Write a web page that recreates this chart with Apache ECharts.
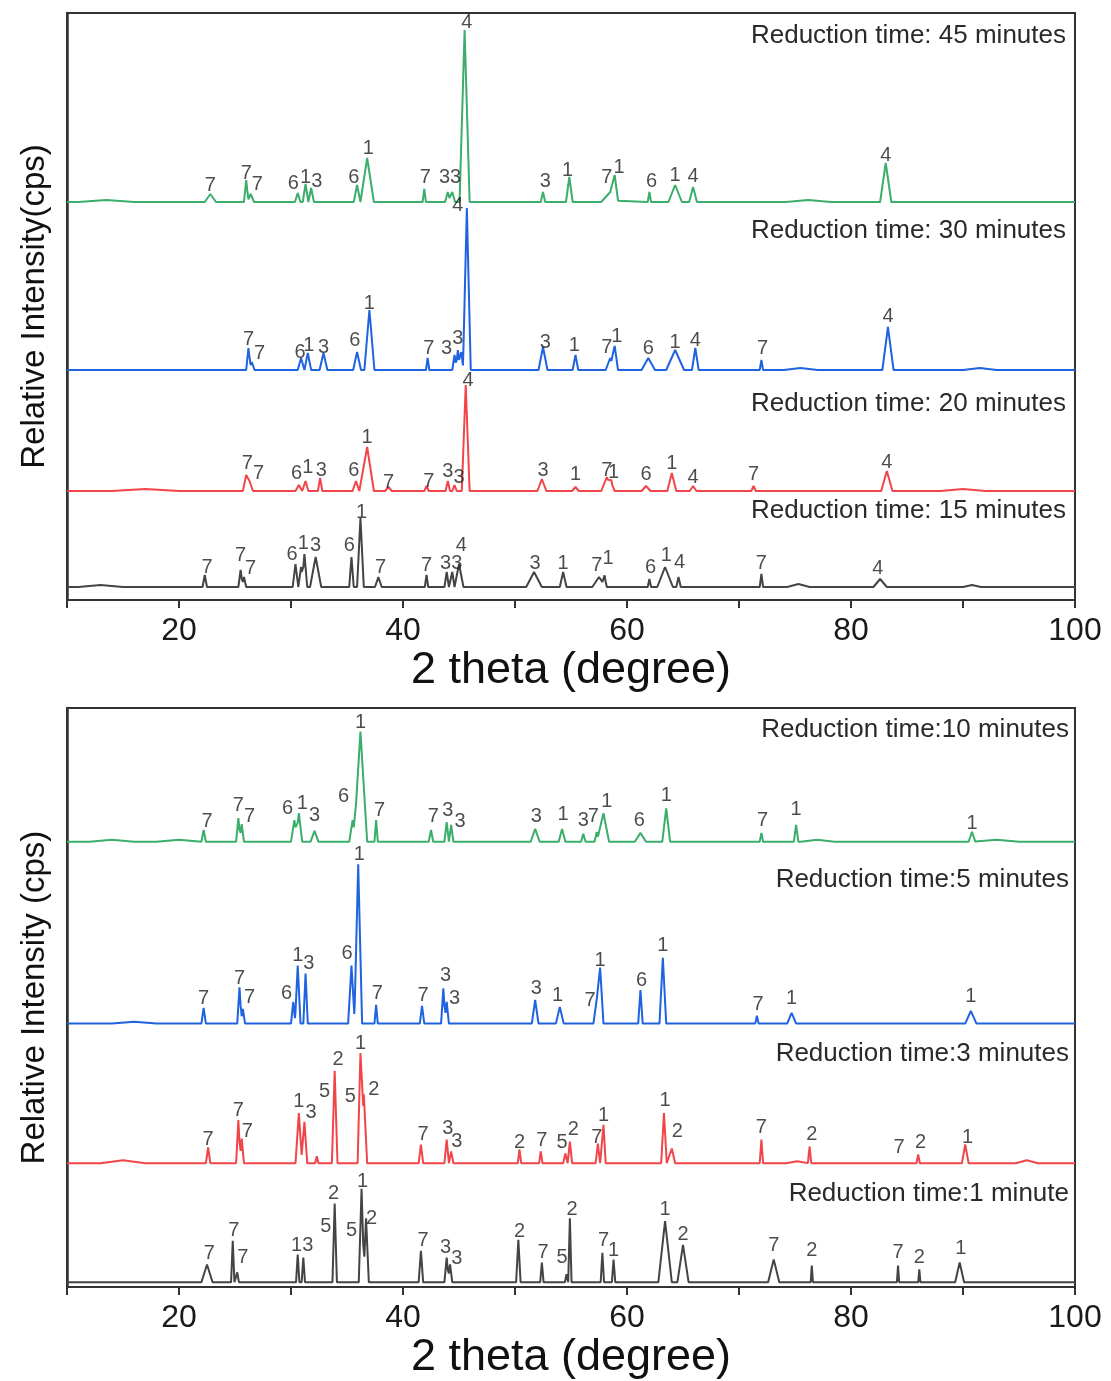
<!DOCTYPE html>
<html>
<head>
<meta charset="utf-8">
<script src="https://cdn.jsdelivr.net/npm/echarts@6/dist/echarts.min.js"></script>
<style>
html,body{margin:0;padding:0;background:#fff;}
#chart{width:1111px;height:1381px;}
</style>
</head>
<body>
<div id="chart"></div>
<script>
// ---- x axis ----
const xTickLabels = [20, 40, 60, 80, 100];

// ---- trace baselines (relative intensity offsets) ----
const topOffsets = [398, 230, 109, 13];      // 45, 30, 20, 15 minutes
const bottomOffsets = [453, 268, 126, 5];    // 10, 5, 3, 1 minutes

const topTitles = ['Reduction time: 45 minutes', 'Reduction time: 30 minutes', 'Reduction time: 20 minutes', 'Reduction time: 15 minutes'];
const bottomTitles = ['Reduction time:10 minutes', 'Reduction time:5 minutes', 'Reduction time:3 minutes', 'Reduction time:1 minute'];

// ---- peaks: [2theta, height, half base width] ----
const peaks45 = [[13.5,2,2.5],[22.8,8,0.5],[26.0,22,0.2],[26.4,8,0.3],[30.6,9,0.25],[31.3,18,0.25],[31.8,14,0.25],[35.9,17,0.3],[36.8,44,0.6],[41.9,13,0.15],[44.0,10,0.25],[44.4,10,0.25],[45.5,172,0.45],[52.5,10,0.2],[54.85,25,0.3],[58.5,10,0.8],[58.9,22,0.3],[62.0,10,0.15],[64.3,17,0.6],[65.9,15,0.35],[76.2,2,2],[83.1,39,0.5]];
const peaks30 = [[26.2,22,0.2],[26.5,8,0.25],[30.9,12,0.3],[31.5,17,0.3],[32.9,17,0.35],[35.9,18,0.35],[37.0,60,0.45],[42.2,12,0.15],[44.6,15,0.2],[44.9,20,0.2],[45.2,18,0.2],[45.7,162,0.35],[52.5,23,0.4],[55.4,15,0.25],[58.5,12,0.4],[58.9,24,0.3],[61.9,12,0.6],[64.3,20,0.8],[66.1,22,0.3],[72.0,10,0.15],[75.5,2,1.5],[83.3,43,0.5],[91.5,2,1.5]];
const peaks20 = [[17,2,3],[26.0,16,0.3],[26.3,10,0.3],[30.7,6,0.3],[31.3,10,0.25],[32.6,13,0.2],[35.8,10,0.3],[36.8,44,0.6],[38.7,4,0.3],[42.1,5,0.2],[44.0,10,0.2],[44.6,6,0.2],[45.6,106,0.35],[52.4,12,0.4],[55.4,4,0.3],[58.2,14,0.5],[58.6,8,0.3],[61.7,5,0.4],[64.0,18,0.4],[65.9,5,0.3],[71.3,5,0.2],[83.2,20,0.5],[90,2,2]];
const peaks15 = [[13,2,2],[22.3,12,0.2],[25.5,17,0.2],[25.8,10,0.2],[30.4,23,0.25],[30.9,20,0.2],[31.2,33,0.25],[32.2,30,0.5],[35.4,30,0.2],[36.2,69,0.3],[37.8,10,0.3],[42.1,12,0.15],[43.9,15,0.2],[44.4,15,0.2],[45.0,23,0.4],[51.7,15,0.7],[54.3,15,0.3],[57.5,10,0.6],[58.0,10,0.2],[62.0,8,0.15],[63.4,20,0.7],[64.6,10,0.2],[72.0,13,0.15],[75.3,3,1.0],[82.6,8,0.6],[90.8,2,0.8]];

const peaks10 = [[14,2,2],[20,2,2],[22.2,12,0.2],[25.3,24,0.2],[25.6,18,0.2],[30.3,22,0.3],[30.7,29,0.3],[32.1,11,0.35],[35.5,22,0.3],[36.2,112,0.6],[37.6,22,0.15],[42.5,12,0.2],[43.9,20,0.2],[44.3,17,0.2],[51.8,13,0.4],[54.2,13,0.3],[56.1,8,0.2],[57.3,10,0.2],[57.9,29,0.5],[61.2,9,0.5],[63.5,34,0.35],[72.0,9,0.15],[75.1,17,0.2],[77.0,2,1.5],[90.8,10,0.3],[93,2,2]];
const peaks5 = [[16,2,2],[22.2,16,0.2],[25.4,37,0.2],[25.7,15,0.2],[30.2,22,0.2],[30.6,59,0.25],[31.3,51,0.2],[35.4,59,0.3],[36.0,162,0.35],[37.6,19,0.15],[41.7,18,0.2],[43.6,36,0.2],[43.9,22,0.2],[51.8,24,0.3],[54.0,17,0.35],[57.3,25,0.3],[57.6,57,0.3],[61.2,34,0.2],[63.2,67,0.3],[71.6,8,0.15],[74.7,11,0.4],[90.7,13,0.5]];
const peaks3 = [[15,3,2],[22.6,16,0.2],[25.3,44,0.2],[25.6,25,0.2],[30.7,51,0.3],[31.2,42,0.25],[32.3,7,0.15],[33.9,94,0.25],[36.2,112,0.25],[36.5,70,0.3],[41.6,19,0.2],[43.9,24,0.2],[44.3,12,0.2],[50.4,14,0.15],[52.3,12,0.15],[54.5,10,0.2],[54.9,22,0.2],[57.4,20,0.2],[57.9,39,0.2],[63.3,51,0.25],[64.0,15,0.3],[72.0,24,0.15],[75.2,2,1.0],[76.3,17,0.15],[86.0,9,0.15],[90.2,19,0.3],[95.7,3,1.0]];
const peaks1 = [[22.5,18,0.5],[24.8,42,0.15],[25.2,10,0.15],[30.6,28,0.15],[31.1,25,0.15],[33.9,80,0.2],[36.3,95,0.25],[36.7,65,0.25],[41.6,32,0.2],[43.9,25,0.2],[44.2,18,0.2],[50.3,43,0.2],[52.4,20,0.15],[54.6,8,0.15],[54.9,65,0.15],[57.8,30,0.15],[58.8,23,0.15],[63.4,62,0.6],[65.0,38,0.5],[73.1,23,0.5],[76.5,17,0.1],[84.2,17,0.1],[86.1,13,0.1],[89.7,20,0.4]];

// ---- phase labels: [2theta, height above baseline, text] ----
const labels45 = [[22.8,17,'7'],[26.0,29,'7'],[27.0,18,'7'],[30.2,19,'6'],[31.3,25,'1'],[32.3,21,'3'],[35.6,25,'6'],[36.9,54,'1'],[42.0,25,'7'],[44.2,25,'33'],[45.7,180,'4'],[52.7,21,'3'],[54.7,32,'1'],[58.2,25,'7'],[59.3,35,'1'],[62.2,21,'6'],[64.3,27,'1'],[65.9,26,'4'],[83.1,47,'4']];
const labels30 = [[26.2,31,'7'],[27.2,17,'7'],[30.8,18,'6'],[31.6,25,'1'],[32.9,23,'3'],[35.7,30,'6'],[37.0,67,'1'],[42.3,22,'7'],[43.9,22,'3'],[44.9,32,'3'],[44.9,165,'4'],[52.7,28,'3'],[55.3,25,'1'],[58.2,23,'7'],[59.1,34,'1'],[61.9,22,'6'],[64.3,28,'1'],[66.1,30,'4'],[72.1,22,'7'],[83.3,54,'4']];
const labels20 = [[26.1,28,'7'],[27.1,18,'7'],[30.5,18,'6'],[31.5,24,'1'],[32.7,21,'3'],[35.6,21,'6'],[36.8,54,'1'],[38.7,9,'7'],[42.3,10,'7'],[44.0,20,'3'],[45.0,14,'3'],[45.8,111,'4'],[52.5,21,'3'],[55.4,17,'1'],[58.2,21,'7'],[58.8,19,'1'],[61.7,17,'6'],[64.0,28,'1'],[65.9,14,'4'],[71.3,17,'7'],[83.2,29,'4']];
const labels15 = [[22.5,20,'7'],[25.5,32,'7'],[26.4,19,'7'],[30.1,33,'6'],[31.1,44,'1'],[32.2,42,'3'],[35.2,42,'6'],[36.3,75,'1'],[38.0,20,'7'],[42.1,22,'7'],[44.3,24,'33'],[45.2,42,'4'],[51.8,24,'3'],[54.3,24,'1'],[57.3,22,'7'],[58.3,29,'1'],[62.1,20,'6'],[63.5,32,'1'],[64.7,25,'4'],[72.0,24,'7'],[82.4,19,'4']];

const labels10 = [[22.5,21,'7'],[25.3,37,'7'],[26.3,26,'7'],[29.7,34,'6'],[31.0,39,'1'],[32.1,27,'3'],[34.7,46,'6'],[36.2,121,'1'],[37.9,32,'7'],[42.7,26,'7'],[44.0,32,'3'],[45.1,21,'3'],[51.9,26,'3'],[54.3,28,'1'],[56.1,22,'3'],[57.0,26,'7'],[58.2,41,'1'],[61.1,22,'6'],[63.5,47,'1'],[72.1,22,'7'],[75.1,33,'1'],[90.8,19,'1']];
const labels5 = [[22.2,26,'7'],[25.4,46,'7'],[26.3,27,'7'],[29.6,31,'6'],[30.6,69,'1'],[31.6,61,'3'],[35.0,71,'6'],[36.1,172,'1'],[37.7,31,'7'],[41.8,29,'7'],[43.8,49,'3'],[44.6,26,'3'],[51.9,36,'3'],[53.8,29,'1'],[56.7,24,'7'],[57.6,64,'1'],[61.3,44,'6'],[63.2,79,'1'],[71.7,19,'7'],[74.7,26,'1'],[90.7,28,'1']];
const labels3 = [[22.6,24,'7'],[25.3,54,'7'],[26.1,32,'7'],[30.7,63,'1'],[31.8,52,'3'],[33.0,73,'5'],[34.2,105,'2'],[35.3,68,'5'],[36.2,122,'1'],[37.4,75,'2'],[41.8,29,'7'],[44.0,35,'3'],[44.8,22,'3'],[50.4,21,'2'],[52.4,23,'7'],[54.2,21,'5'],[55.2,34,'2'],[57.3,26,'7'],[57.9,49,'1'],[63.4,64,'1'],[64.5,32,'2'],[72.0,36,'7'],[76.5,29,'2'],[84.3,16,'7'],[86.2,21,'2'],[90.4,26,'1']];
const labels1 = [[22.7,29,'7'],[24.9,53,'7'],[25.7,25,'7'],[31.0,37,'13'],[33.1,57,'5'],[33.8,90,'2'],[35.4,53,'5'],[36.4,102,'1'],[37.2,65,'2'],[41.8,42,'7'],[43.8,35,'3'],[44.8,24,'3'],[50.4,52,'2'],[52.5,30,'7'],[54.2,25,'5'],[55.1,74,'2'],[57.9,42,'7'],[58.8,32,'1'],[63.4,74,'1'],[65.0,49,'2'],[73.1,37,'7'],[76.5,32,'2'],[84.2,30,'7'],[86.1,25,'2'],[89.8,34,'1']];

// ---- styling ----
const colors = ['#3aae6a', '#1f63e0', '#f2454a', '#444444'];
const FONT = "'Liberation Sans', Arial, sans-serif";

// piecewise-linear trace through the peak list (feet and apex of each peak)
function buildLine(peaks, offset) {
  const xs = new Set([10, 100]);
  peaks.forEach(([p, h, w]) => { xs.add(+(p - w).toFixed(3)); xs.add(p); xs.add(+(p + w).toFixed(3)); });
  const sorted = Array.from(xs).filter(x => x >= 10 && x <= 100).sort((a, b) => a - b);
  return sorted.map(x => [x, offset + peaks.reduce((s, [p, h, w]) => s + Math.max(0, h * (1 - Math.abs(x - p) / w)), 0)]);
}

const series = [];
function addTrace(peaks, labels, offset, color, gi) {
  series.push({
    type: 'line', xAxisIndex: gi, yAxisIndex: gi, data: buildLine(peaks, offset),
    showSymbol: false, symbol: 'none', silent: true,
    lineStyle: { color: color, width: 2 }, z: 3
  });
  series.push({
    type: 'scatter', xAxisIndex: gi, yAxisIndex: gi,
    data: labels.map(([x, h, t]) => [x, offset + h, t]),
    symbolSize: 0, silent: true, z: 5,
    label: { show: true, position: 'inside', formatter: p => p.data[2], fontSize: 20, color: '#1e1e1e', fontFamily: FONT }
  });
}
const topPeaks = [peaks45, peaks30, peaks20, peaks15];
const topLabels = [labels45, labels30, labels20, labels15];
const botPeaks = [peaks10, peaks5, peaks3, peaks1];
const botLabels = [labels10, labels5, labels3, labels1];
for (let i = 0; i < 4; i++) addTrace(topPeaks[i], topLabels[i], topOffsets[i], colors[i], 0);
for (let i = 0; i < 4; i++) addTrace(botPeaks[i], botLabels[i], bottomOffsets[i], colors[i], 1);

function xAxisCfg(gi) {
  return {
    gridIndex: gi, type: 'value', min: 10, max: 100, interval: 10,
    axisLine: { show: true, lineStyle: { color: '#333', width: 2 } },
    axisTick: { show: true, inside: false, length: 8, lineStyle: { color: '#333', width: 2 } },
    axisLabel: { formatter: v => xTickLabels.includes(v) ? String(v) : '', fontSize: 32, color: '#1a1a1a', margin: 15, fontFamily: FONT },
    splitLine: { show: false },
    name: '2 theta (degree)', nameLocation: 'middle', nameGap: 45,
    nameTextStyle: { fontSize: 45, color: '#111', fontFamily: FONT }
  };
}
function yAxisCfg(gi, max, name) {
  return {
    gridIndex: gi, type: 'value', min: 0, max: max,
    axisLine: { show: true, lineStyle: { color: '#333', width: 2.5 } },
    axisTick: { show: false }, axisLabel: { show: false }, splitLine: { show: false },
    name: name, nameLocation: 'middle', nameGap: 16,
    nameTextStyle: { fontSize: 33, color: '#111', fontFamily: FONT }
  };
}

const titleRight = 1066;
const topTitleY = [36, 231, 404, 511];
const botTitleY = [730, 880, 1054, 1194];
const graphic = [];
topTitles.forEach((t, i) => graphic.push({ type: 'text', x: titleRight, y: topTitleY[i], style: { text: t, fontSize: 26, fontFamily: FONT, fill: '#2a2a2a', align: 'right', verticalAlign: 'middle' }, z: 10 }));
bottomTitles.forEach((t, i) => graphic.push({ type: 'text', x: titleRight + 3, y: botTitleY[i], style: { text: t, fontSize: 26, fontFamily: FONT, fill: '#2a2a2a', align: 'right', verticalAlign: 'middle' }, z: 10 }));

const chart = echarts.init(document.getElementById('chart'), null, { renderer: 'canvas' });
chart.setOption({
  animation: false,
  backgroundColor: '#fff',
  grid: [
    { left: 67, right: 36, top: 13, height: 587, show: true, borderColor: '#333', borderWidth: 2, backgroundColor: 'transparent' },
    { left: 67, right: 36, top: 708, height: 589, show: true, borderColor: '#333', borderWidth: 2, backgroundColor: 'transparent' }
  ],
  xAxis: [xAxisCfg(0), xAxisCfg(1)],
  yAxis: [yAxisCfg(0, 587, 'Relative Intensity(cps)'), yAxisCfg(1, 589, 'Relative Intensity (cps)')],
  graphic: graphic,
  series: series
});
</script>
</body>
</html>
